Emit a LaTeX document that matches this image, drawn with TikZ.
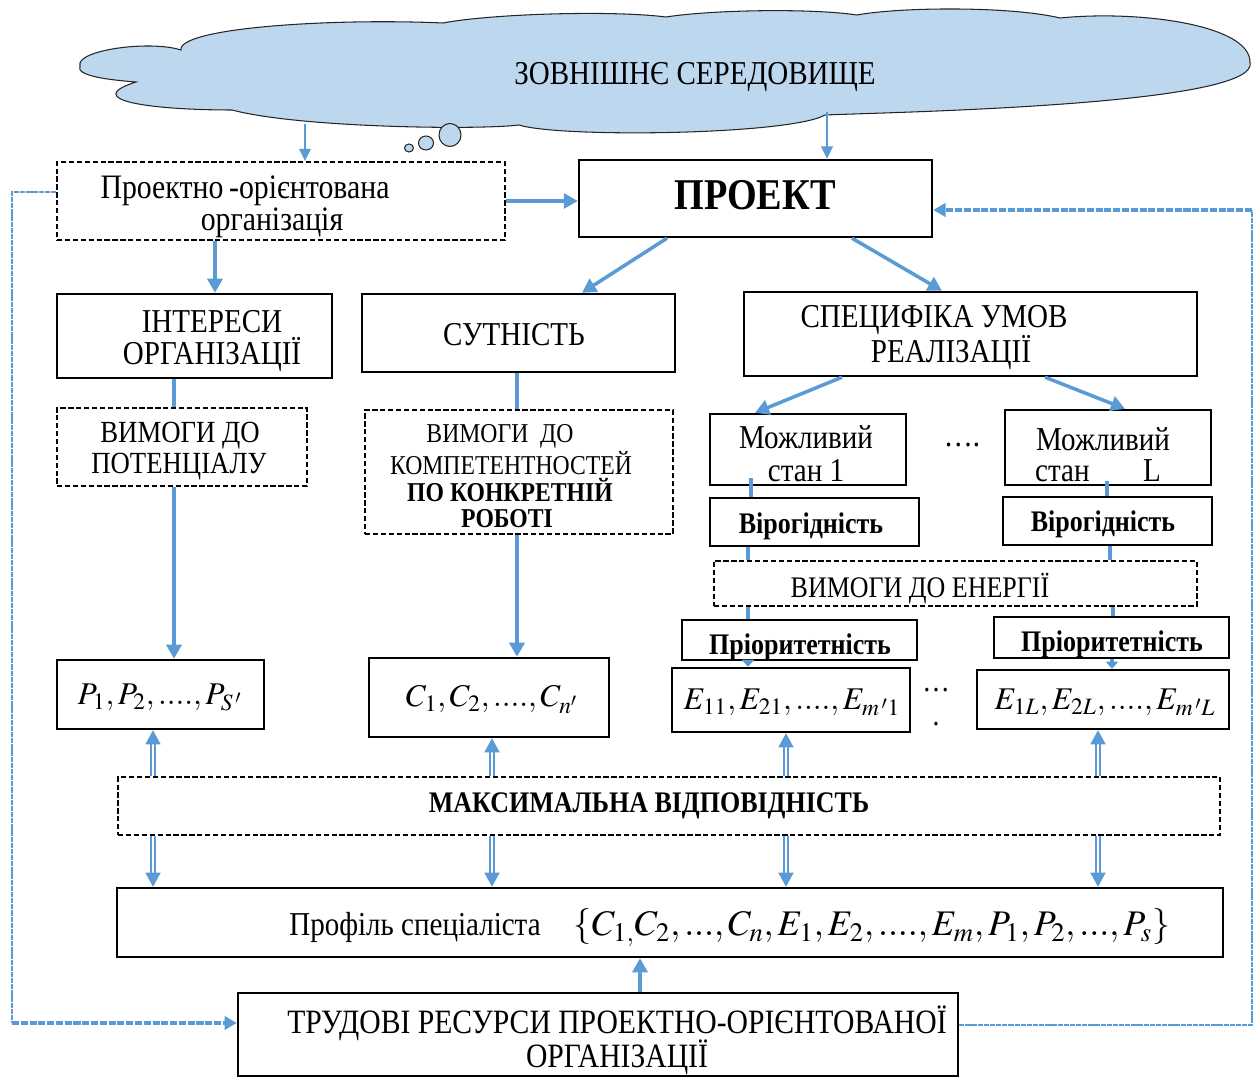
\documentclass[tikz,border=0pt]{standalone}
\usepackage{mathptmx}
\usepackage{fontspec}
\setmainfont{Liberation Serif}[FakeStretch=0.87]
\usetikzlibrary{arrows.meta,calc}
\definecolor{arrowblue}{HTML}{5B9BD5}
\definecolor{cloudfill}{HTML}{BDD7EE}
\newcommand\fsz[1]{\fontsize{#1}{#1}\selectfont}
\tikzset{
  box/.style={draw=black, line width=1.4pt, inner sep=0pt},
  dbox/.style={draw=black, line width=1pt, dash pattern=on 3pt off 1.5pt, inner sep=0pt},
  txt/.style={inner sep=0pt, text=black, yshift=-0.05cm},
  cloudedge/.style={draw=black!85, line width=0.6pt, fill=cloudfill},
  arr/.style={draw=arrowblue, line width=2pt, -{Triangle[length=8pt,width=8.5pt]}},
  smallarr/.style={draw=arrowblue, line width=2pt, -{Triangle[length=4pt,width=7pt]}},
  thinarr/.style={draw=arrowblue, line width=1.2pt, -{Triangle[length=7pt,width=6.5pt]}},
  link/.style={draw=arrowblue, line width=2pt},
  dblarr/.style={draw=arrowblue, double=white, double distance=1.4pt, line width=0.9pt,
    -{Triangle[length=8pt,width=8.5pt]}},
  loopthin/.style={draw=arrowblue, line width=1pt, dash pattern=on 3pt off 0.5pt},
  loopthick/.style={draw=arrowblue, line width=2pt, dash pattern=on 4pt off 1pt,
    -{Triangle[length=7pt,width=7.5pt]}},
}
\begin{document}
\begin{tikzpicture}[x=0.02cm, y=0.02cm]
\path[use as bounding box] (0,0) rectangle (1255,-1077);

% external environment cloud
\draw[cloudedge] (80,-66) .. controls (75,-50) and (150,-40) .. (181,-50)
  .. controls (178,-28) and (330,-18) .. (443,-23)
  .. controls (490,-14) and (610,-10) .. (666,-17)
  .. controls (710,-10) and (810,-8) .. (857,-15)
  .. controls (900,-7) and (1010,-6) .. (1060,-18)
  .. controls (1140,-10) and (1250,-25) .. (1250,-62)
  .. controls (1262,-105) and (900,-112) .. (825,-115)
  .. controls (790,-135) and (560,-138) .. (519,-125)
  .. controls (480,-130) and (300,-128) .. (232,-110)
  .. controls (150,-110) and (80,-100) .. (136,-82)
  .. controls (110,-80) and (75,-76) .. cycle;
\draw[cloudedge] (450,-135) ellipse [x radius=11, y radius=11.5];
\draw[cloudedge] (426,-143) ellipse [x radius=7.5, y radius=7];
\draw[cloudedge] (409,-148) ellipse [x radius=4.5, y radius=4];
\node[txt, font=\fsz{19}] (env) at (695,-75) {ЗОВНІШНЄ СЕРЕДОВИЩЕ};
\coordinate (cl1) at (305,-124);
\coordinate (cl2) at (827,-112);

% boxes
\node[dbox, minimum width=8.96cm, minimum height=1.56cm] (org) at (281,-201) {};
\node[box, minimum width=7.06cm, minimum height=1.54cm] (proj) at (755.5,-198.5) {};
\node[box, minimum width=5.5cm, minimum height=1.68cm] (inter) at (194.5,-336) {};
\node[box, minimum width=6.26cm, minimum height=1.56cm] (sut) at (518.5,-333) {};
\node[box, minimum width=9.06cm, minimum height=1.68cm] (spec) at (970.5,-334) {};
\node[dbox, minimum width=5.0cm, minimum height=1.56cm] (vpot) at (182,-447) {};
\node[dbox, minimum width=6.16cm, minimum height=2.48cm] (vcomp) at (519,-472) {};
\node[box, minimum width=3.92cm, minimum height=1.42cm] (st1) at (808,-449.5) {};
\node[box, minimum width=4.12cm, minimum height=1.5cm] (stL) at (1108,-447.5) {};
\node[box, minimum width=4.18cm, minimum height=0.96cm] (vir1) at (814.5,-522) {};
\node[box, minimum width=4.18cm, minimum height=0.96cm] (virL) at (1107.5,-521) {};
\node[dbox, minimum width=9.66cm, minimum height=0.9cm] (ven) at (955.5,-583.5) {};
\node[box, minimum width=4.7cm, minimum height=0.8cm] (pri1) at (799.5,-640) {};
\node[box, minimum width=4.7cm, minimum height=0.82cm] (priL) at (1111.5,-637.5) {};
\node[box, minimum width=4.14cm, minimum height=1.38cm] (pbox) at (160.5,-694.5) {};
\node[box, minimum width=4.8cm, minimum height=1.58cm] (cbox) at (489,-697.5) {};
\node[box, minimum width=4.76cm, minimum height=1.28cm] (e1) at (791,-700) {};
\node[box, minimum width=5.04cm, minimum height=1.18cm] (eL) at (1103,-699.5) {};
\node[dbox, minimum width=22.04cm, minimum height=1.16cm] (max) at (669,-806) {};
\node[box, minimum width=22.12cm, minimum height=1.38cm] (prof) at (670,-922.5) {};
\node[box, minimum width=14.4cm, minimum height=1.66cm] (trud) at (598,-1034.5) {};

% texts
\node[txt, font=\fsz{19.5}] at (245,-188) {Проектно\,-орієнтована};
\node[txt, font=\fsz{19.5}] at (272,-220) {організація};
\node[txt, font=\fsz{25}\bfseries] at (755,-193) {ПРОЕКТ};
\node[txt, font=\fsz{19}] at (212,-319) {ІНТЕРЕСИ};
\node[txt, font=\fsz{19}] at (212,-352) {ОРГАНІЗАЦІЇ};
\node[txt, font=\fsz{19}] at (514,-332) {СУТНІСТЬ};
\node[txt, font=\fsz{19}] at (934,-318) {СПЕЦИФІКА УМОВ};
\node[txt, font=\fsz{19}] at (951,-350) {РЕАЛІЗАЦІЇ};
\node[txt, font=\fsz{17.5}] at (180,-433) {ВИМОГИ ДО};
\node[txt, font=\fsz{17.5}] at (179,-464) {ПОТЕНЦІАЛУ};
\node[txt, font=\fsz{15.5}] at (500,-434) {ВИМОГИ~~ДО};
\node[txt, font=\fsz{15.5}] at (511,-461) {КОМПЕТЕНТНОСТЕЙ};
\node[txt, font=\fsz{15.5}\bfseries] at (510,-488) {ПО КОНКРЕТНІЙ};
\node[txt, font=\fsz{15.5}\bfseries] at (507,-516) {РОБОТІ};
\node[txt, font=\fsz{19}] at (806,-435) {Можливий};
\node[txt, font=\fsz{19}] at (806,-468) {стан 1};
\node[txt, font=\fsz{19}] at (962,-443) {….};
\node[txt, font=\fsz{19}] at (1103,-437) {Можливий};
\node[txt, font=\fsz{19}] at (1098,-468) {стан\hspace{1.6em}L};
\node[txt, font=\fsz{17}\bfseries] at (811,-524) {Вірогідність};
\node[txt, font=\fsz{17}\bfseries] at (1103,-522) {Вірогідність};
\node[txt, font=\fsz{17}] at (920,-586) {ВИМОГИ ДО ЕНЕРГІЇ};
\node[txt, font=\fsz{17}\bfseries] at (800,-645) {Пріоритетність};
\node[txt, font=\fsz{17}\bfseries] at (1112,-642) {Пріоритетність};
\node[txt, font=\fsz{18}] at (160,-695) {$P_1,P_2,....,P_{S\,'}$};
\node[txt, font=\fsz{18}] at (492,-697) {$C_1,C_2,....,C_{n'}$};
\node[txt, font=\fsz{18}] at (792,-700) {$E_{11},E_{21},....,E_{m\,'1}$};
\node[txt, font=\fsz{18}] at (1105,-700) {$E_{1L},E_{2L},....,E_{m\,'L}$};
\node[txt, font=\fsz{18}] at (936,-688) {…};
\node[txt, font=\fsz{18}] at (936,-722) {.};
\node[txt, font=\fsz{17}\bfseries] at (649,-803) {МАКСИМАЛЬНА ВІДПОВІДНІСТЬ};
\node[txt, font=\fsz{19}] at (415,-925) {Профіль спеціаліста};
\node[txt, font=\fsz{20.5}] at (872,-925)
  {$\left\{C_{1,}C_2,...,C_n,E_1,E_2,....,E_m,P_1,P_2,...,P_s\right\}$};
\node[txt, font=\fsz{19.4}] at (617,-1021) {ТРУДОВІ РЕСУРСИ ПРОЕКТНО-ОРІЄНТОВАНОЇ};
\node[txt, font=\fsz{19.4}] at (617,-1055) {ОРГАНІЗАЦІЇ};

% connectors
\draw[thinarr] (cl1) -- (cl1 |- org.north);
\draw[thinarr] (cl2) -- (cl2 |- proj.north);
\draw[arr] (org.east) -- (org.east -| proj.west);
\draw[arr] (org.south -| 215,0) -- (inter.north -| 215,0);
\draw[arr] (proj.south -| 667,0) -- (sut.north -| 582,0);
\draw[arr] (proj.south -| 852,0) -- (spec.north -| 942,0);
\draw[arr] (spec.south -| 842,0) -- (st1.north -| 755,0);
\draw[arr] (spec.south -| 1045,0) -- (stL.north -| 1125,0);
\draw[link] (inter.south -| 174,0) -- (vpot.north -| 174,0);
\draw[arr] (vpot.south -| 174,0) -- (pbox.north -| 174,0);
\draw[link] (sut.south -| 517,0) -- (vcomp.north -| 517,0);
\draw[arr] (vcomp.south -| 517,0) -- (cbox.north -| 517,0);
\draw[link] ($(st1.south -| 751,0)+(0,8)$) -- (vir1.north -| 751,0);
\draw[link] ($(stL.south -| 1107,0)+(0,5)$) -- (virL.north -| 1107,0);
\draw[link] (vir1.south -| 748,0) -- (ven.north -| 748,0);
\draw[link] (virL.south -| 1110,0) -- (ven.north -| 1110,0);
\draw[link] (ven.south -| 748,0) -- (pri1.north -| 748,0);
\draw[link] (ven.south -| 1113,0) -- (priL.north -| 1113,0);
\draw[smallarr] (pri1.south -| 748,0) -- (e1.north -| 748,0);
\draw[smallarr] (priL.south -| 1112,0) -- (eL.north -| 1112,0);
\foreach \xx/\tgt in {153/pbox, 492/cbox, 786/e1, 1098/eL} {
  \draw[dblarr] (max.north -| \xx,0) -- (\tgt.south -| \xx,0);
  \draw[dblarr] (max.south -| \xx,0) -- (prof.north -| \xx,0);
}
\draw[arr] (trud.north -| 640,0) -- (prof.south -| 640,0);

% feedback loops
\coordinate (lc1) at (12,-192);
\coordinate (lc2) at (12,-1023);
\coordinate (rc1) at (1252,-1025);
\coordinate (rc2) at (1252,-210);
\draw[loopthin] (org.west |- lc1) -- (lc1) -- (lc2);
\draw[loopthick] (lc2) -- (lc2 -| trud.west);
\draw[loopthin] (rc1 -| trud.east) -- (rc1) -- (rc2);
\draw[loopthick] (rc2) -- (rc2 -| proj.east);
\end{tikzpicture}
\end{document}
